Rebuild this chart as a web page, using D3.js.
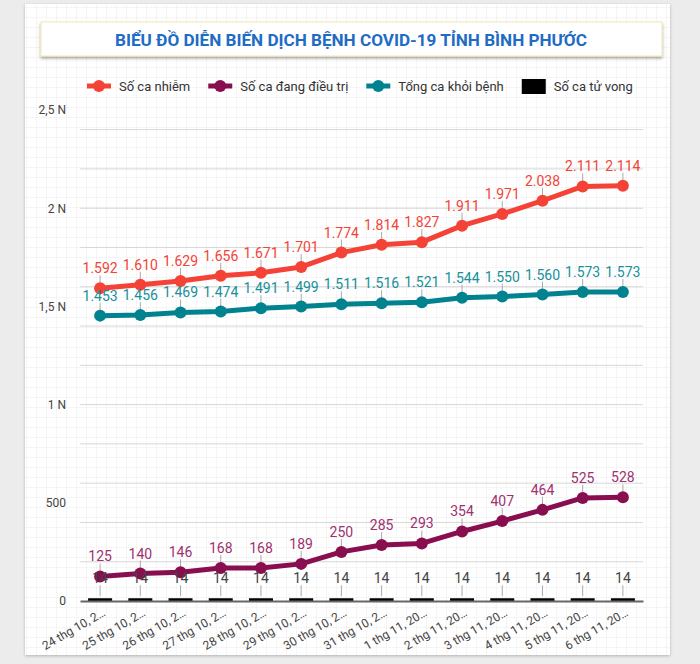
<!DOCTYPE html>
<html>
<head>
<meta charset="utf-8">
<script src="https://cdn.jsdelivr.net/npm/d3@7/dist/d3.min.js"></script>
<style>
  body { margin: 0; background: #ececec; font-family: Roboto, "Noto Sans", sans-serif; }
  svg { display: block; }
</style>
</head>
<body>
<svg id="chart" width="700" height="664"></svg>
<script>
var title = "BIỂU ĐỒ DIỄN BIẾN DỊCH BỆNH COVID-19 TỈNH BÌNH PHƯỚC";
var dates = ["24 thg 10, 2021", "25 thg 10, 2021", "26 thg 10, 2021", "27 thg 10, 2021",
  "28 thg 10, 2021", "29 thg 10, 2021", "30 thg 10, 2021", "31 thg 10, 2021",
  "1 thg 11, 2021", "2 thg 11, 2021", "3 thg 11, 2021", "4 thg 11, 2021",
  "5 thg 11, 2021", "6 thg 11, 2021"];
var soCaNhiem = [1592, 1610, 1629, 1656, 1671, 1701, 1774, 1814, 1827, 1911, 1971, 2038, 2111, 2114];
var dangDieuTri = [125, 140, 146, 168, 168, 189, 250, 285, 293, 354, 407, 464, 525, 528];
var khoiBenh = [1453, 1456, 1469, 1474, 1491, 1499, 1511, 1516, 1521, 1544, 1550, 1560, 1573, 1573];
var tuVong = [14, 14, 14, 14, 14, 14, 14, 14, 14, 14, 14, 14, 14, 14];
var yTicks = [0, 500, 1000, 1500, 2000, 2500];
var yTickLabels = ["0", "500", "1 N", "1,5 N", "2 N", "2,5 N"];
var seriesNames = ["Số ca nhiễm", "Số ca đang điều trị", "Tổng ca khỏi bệnh", "Số ca tử vong"];

var vn = d3.formatLocale({decimal: ",", thousands: ".", grouping: [3], currency: ["", ""]});
var fmt = vn.format(",d");

var svg = d3.select('#chart');
var defs = svg.append('defs');

// graph-paper background of the card
var pat = defs.append('pattern')
  .attr('id', 'grid').attr('width', 10).attr('height', 10)
  .attr('patternUnits', 'userSpaceOnUse').attr('x', 6).attr('y', 7);
pat.append('path').attr('d', 'M10 0 L0 0 0 10')
  .attr('fill', 'none').attr('stroke', '#ebebeb').attr('stroke-width', 1);

var sh = defs.append('filter').attr('id', 'cardShadow')
  .attr('x', '-5%').attr('y', '-5%').attr('width', '110%').attr('height', '110%');
sh.append('feDropShadow').attr('dx', 0).attr('dy', 1).attr('stdDeviation', 1.5)
  .attr('flood-color', '#000').attr('flood-opacity', 0.25);

var sh2 = defs.append('filter').attr('id', 'titleShadow')
  .attr('x', '-5%').attr('y', '-30%').attr('width', '110%').attr('height', '170%');
sh2.append('feDropShadow').attr('dx', 0).attr('dy', 2).attr('stdDeviation', 1.5)
  .attr('flood-color', '#000').attr('flood-opacity', 0.35);

svg.append('rect').attr('x', 25).attr('y', 4).attr('width', 645).attr('height', 651)
  .attr('fill', '#fff').attr('filter', 'url(#cardShadow)');
svg.append('rect').attr('x', 25).attr('y', 4).attr('width', 645).attr('height', 651)
  .attr('fill', 'url(#grid)');

// title box
svg.append('rect').attr('x', 41).attr('y', 22).attr('width', 621).attr('height', 34)
  .attr('fill', '#fff').attr('stroke', '#f3e7b9').attr('stroke-width', 1)
  .attr('filter', 'url(#titleShadow)');
svg.append('text').attr('x', 351).attr('y', 46)
  .attr('text-anchor', 'middle')
  .attr('font-size', 16).attr('font-weight', 'bold').attr('fill', '#1f6cc5')
  .attr('textLength', 472).attr('lengthAdjust', 'spacingAndGlyphs')
  .text(title);

var colors = ['#f44336', '#880e4f', '#00838f', '#000000'];
var labelColors = ['#f44336', '#a0306f', '#17909a', '#444'];

// legend
var lg = svg.append('g').attr('font-size', 13).attr('fill', '#333');
var lx = 87, ly = 86;
seriesNames.forEach(function (name, i) {
  var g = lg.append('g').attr('transform', 'translate(' + lx + ',' + ly + ')');
  if (i < 3) {
    g.append('line').attr('x1', 0).attr('x2', 24).attr('y1', 0).attr('y2', 0)
      .attr('stroke', colors[i]).attr('stroke-width', 5);
    g.append('circle').attr('cx', 12).attr('cy', 0).attr('r', 6).attr('fill', colors[i]);
  } else {
    g.append('rect').attr('x', 0).attr('y', -7).attr('width', 24).attr('height', 15).attr('fill', '#000');
  }
  var t = g.append('text').attr('x', 32).attr('y', 4.5).text(name);
  lx += 32 + t.node().getComputedTextLength() + 18;
});

var x = d3.scaleBand().domain(dates).range([80, 643]);
var y = d3.scaleLinear().domain([0, 2500]).range([601, 110]);
function cx(d, i) { return x(dates[i]) + x.bandwidth() / 2; }

// horizontal gridlines every 250
svg.append('g').selectAll('line').data(y.ticks(10).filter(function (d) { return d > 0; }))
  .enter().append('line')
  .attr('x1', 80).attr('x2', 643)
  .attr('y1', function (d) { return y(d); }).attr('y2', function (d) { return y(d); })
  .attr('stroke', '#d6d6d6').attr('stroke-width', 1);

var yAxis = svg.append('g').attr('transform', 'translate(80,0)')
  .call(d3.axisLeft(y).tickValues(yTicks).tickSize(0).tickPadding(14)
    .tickFormat(function (d, i) { return yTickLabels[i]; }));
yAxis.select('.domain').remove();
yAxis.selectAll('text').attr('font-family', 'Roboto, sans-serif').attr('font-size', 12).attr('fill', '#444');

// death bars
svg.append('g').selectAll('rect').data(tuVong).enter().append('rect')
  .attr('x', function (d, i) { return cx(d, i) - 12; })
  .attr('y', function (d) { return y(d); })
  .attr('width', 24)
  .attr('height', function (d) { return y(0) - y(d); })
  .attr('fill', '#000');

// x axis
var xAxis = svg.append('g').attr('transform', 'translate(0,601)')
  .call(d3.axisBottom(x).tickSize(0).tickPadding(0)
    .tickFormat(function (d) { return d.slice(0, 12) + '…'; }));
xAxis.select('.domain').attr('stroke', '#666').attr('stroke-width', 2);
xAxis.selectAll('text')
  .attr('font-family', 'Roboto, sans-serif').attr('font-size', 12).attr('fill', '#444')
  .attr('text-anchor', 'end').attr('dy', 0).attr('y', 0)
  .attr('transform', 'translate(6,14) rotate(-30)');

var series = [soCaNhiem, dangDieuTri, khoiBenh, tuVong];

// leader lines for data labels
series.forEach(function (vals, s) {
  svg.append('g').selectAll('line').data(vals).enter().append('line')
    .attr('x1', cx).attr('x2', cx)
    .attr('y1', function (d) { return y(d) - 2; })
    .attr('y2', function (d) { return y(d) - 13; })
    .attr('stroke', '#aaa').attr('stroke-width', 1);
});

var line = d3.line().x(function (d, i) { return cx(d, i); }).y(function (d) { return y(d); });
[0, 1, 2].forEach(function (s) {
  svg.append('path').datum(series[s])
    .attr('d', line).attr('fill', 'none')
    .attr('stroke', colors[s]).attr('stroke-width', 5)
    .attr('stroke-linejoin', 'round');
  svg.append('g').selectAll('circle').data(series[s]).enter().append('circle')
    .attr('cx', cx).attr('cy', function (d) { return y(d); })
    .attr('r', 6).attr('fill', colors[s]);
});

// data labels
series.forEach(function (vals, s) {
  svg.append('g').selectAll('text').data(vals).enter().append('text')
    .attr('x', cx).attr('y', function (d) { return y(d) - 15; })
    .attr('text-anchor', 'middle').attr('font-size', 14)
    .attr('fill', labelColors[s])
    .text(function (d) { return fmt(d); });
});
</script>
</body>
</html>
